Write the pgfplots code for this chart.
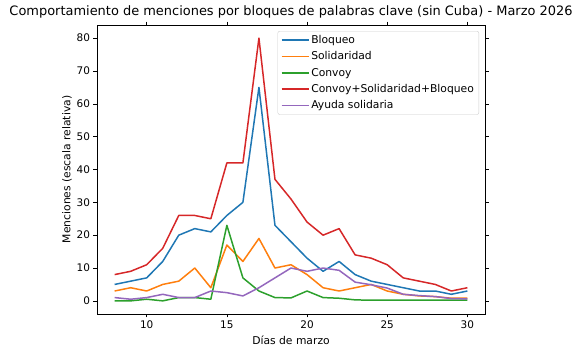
\documentclass[border=0pt]{standalone}
\usepackage{pgfplots}
\pgfplotsset{compat=1.18}
\usepackage{fontspec}
\setmainfont{DejaVu Sans}
\definecolor{c0}{HTML}{1F77B4}
\definecolor{c1}{HTML}{FF7F0E}
\definecolor{c2}{HTML}{2CA02C}
\definecolor{c3}{HTML}{D62728}
\definecolor{c4}{HTML}{9467BD}
\begin{document}
\begin{tikzpicture}
\begin{axis}[
  name=ax,
  scale only axis,
  width=388bp, height=289bp,
  xmin=6.9, xmax=31.1, ymin=-4, ymax=84,
  xtick={10,15,20,25,30}, ytick={0,10,20,30,40,50,60,70,80},
  tick align=outside, major tick length=3.5bp,
  tick style={black, line width=0.6pt},
  axis line style={line width=0.6pt},
  /pgf/number format/assume math mode=true,
  ticklabel style={font=\fontsize{10.5}{12}\selectfont},
  xlabel={Días de marzo}, ylabel={Menciones (escala relativa)},
  label style={font=\fontsize{10.8}{13}\selectfont},
  ylabel style={yshift=-2bp},
  title={Comportamiento de menciones por bloques de palabras clave (sin Cuba) - Marzo 2026},
  title style={font=\fontsize{13}{15}\selectfont, yshift=-3bp},
  legend style={at={(rel axis cs:1,1)}, anchor=north east, xshift=-6bp, yshift=-6bp,
    draw=black!20, rounded corners=2pt, fill=white, fill opacity=0.8, text opacity=1,
    font=\fontsize{10.8}{13}\selectfont, row sep=2.3bp,
    nodes={inner ysep=2.2bp}},
  legend cell align=left,
  legend image code/.code={\path (-3bp,0bp) -- (24bp,0bp); \draw[#1, line width=1.5pt] (0bp,0bp) -- (20bp,0bp);},
]
\addplot[draw=c0, line width=1.5pt, line join=round] coordinates {(8,5)(9,6)(10,7)(11,12)(12,20)(13,22)(14,21)(15,26)(16,30)(17,65)(18,23)(19,18)(20,13)(21,9)(22,12)(23,8)(24,6)(25,5)(26,4)(27,3)(28,3)(29,2)(30,3)};
\addlegendentry{Bloqueo}
\addplot[draw=c1, line width=1.5pt, line join=round] coordinates {(8,3)(9,4)(10,3)(11,5)(12,6)(13,10)(14,4)(15,17)(16,12)(17,19)(18,10)(19,11)(20,8)(21,4)(22,3)(23,4)(24,5)(25,3)(26,2)(27,1.5)(28,1.3)(29,0.8)(30,0.8)};
\addlegendentry{Solidaridad}
\addplot[draw=c2, line width=1.5pt, line join=round] coordinates {(8,0)(9,0)(10,0.5)(11,0)(12,1)(13,1)(14,0.5)(15,23)(16,7)(17,3)(18,1)(19,0.9)(20,3)(21,1)(22,0.8)(23,0.3)(24,0.2)(25,0.2)(26,0.2)(27,0.2)(28,0.2)(29,0.2)(30,0.2)};
\addlegendentry{Convoy}
\addplot[draw=c3, line width=1.5pt, line join=round] coordinates {(8,8)(9,9)(10,11)(11,16)(12,26)(13,26)(14,25)(15,42)(16,42)(17,80)(18,37)(19,31)(20,24)(21,20)(22,22)(23,14)(24,13)(25,11)(26,7)(27,6)(28,5)(29,3)(30,4)};
\addlegendentry{Convoy+Solidaridad+Bloqueo}
\addplot[draw=c4, line width=1.5pt, line join=round] coordinates {(8,1)(9,0.5)(10,1)(11,2)(12,1)(13,1)(14,3)(15,2.5)(16,1.5)(17,4)(18,7)(19,10)(20,9)(21,10)(22,9.3)(23,5.7)(24,4.9)(25,3.9)(26,2)(27,1.6)(28,1.3)(29,0.7)(30,0.6)};
\addlegendentry{Ayuda solidaria}
\end{axis}
\pgfresetboundingbox
\useasboundingbox ([shift={(-97bp,-42bp)}]ax.south west) rectangle ([shift={(95bp,25bp)}]ax.north east);
\end{tikzpicture}
\end{document}
